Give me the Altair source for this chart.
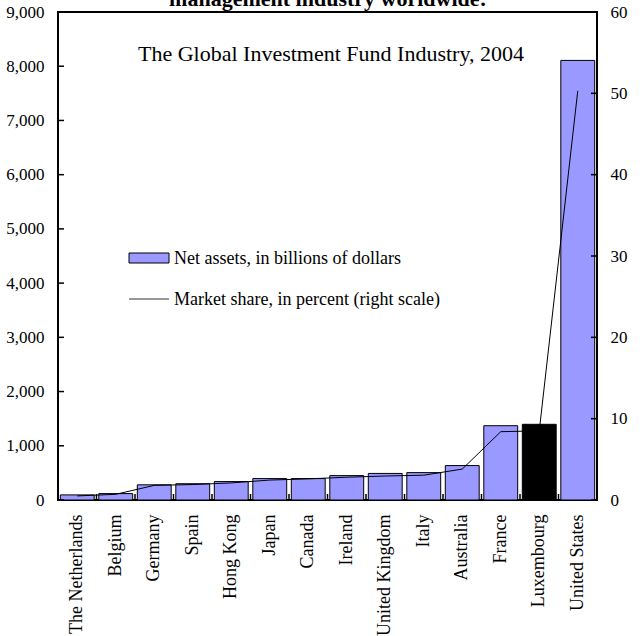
import altair as alt
import pandas as pd

countries = ["The Netherlands", "Belgium", "Germany", "Spain", "Hong Kong", "Japan",
             "Canada", "Ireland", "United Kingdom", "Italy", "Australia", "France",
             "Luxembourg", "United States"]
net_assets = [94, 118, 280, 300, 340, 395, 395, 450, 490, 505, 635, 1370, 1396, 8107]
market_share = [0.5, 0.7, 1.8, 1.9, 2.1, 2.45, 2.6, 2.8, 2.95, 3.05, 3.8, 8.4, 8.5, 50.3]
bar_fill = ["#9999FF"] * 12 + ["#000000", "#9999FF"]
left_ticks = [0, 1000, 2000, 3000, 4000, 5000, 6000, 7000, 8000, 9000]
right_ticks = [0, 10, 20, 30, 40, 50, 60]

title_cut = "management industry worldwide:"
subtitle = "The Global Investment Fund Industry, 2004"
legend_bar = "Net assets, in billions of dollars"
legend_line = "Market share, in percent (right scale)"

FONT = "Liberation Serif"
W, H = 539, 488

df = pd.DataFrame({"country": countries, "assets": net_assets,
                   "share": market_share, "fill": bar_fill})
xenc = alt.X("country:N", sort=countries,
             scale=alt.Scale(paddingInner=0, paddingOuter=0),
             axis=alt.Axis(title=None, labelAngle=-90, ticks=False, domain=False,
                           labelPadding=14, labelFontSize=18))

bars = alt.Chart(df).mark_bar(stroke="black", strokeWidth=1,
                              width=alt.RelativeBandSize(0.88)).encode(
    x=xenc,
    y=alt.Y("assets:Q", scale=alt.Scale(domain=[0, 9000], nice=False),
            axis=alt.Axis(title=None, values=left_ticks, format=",.0f", ticks=False,
                          domain=False, grid=False, labelPadding=14,
                          labelFontSize=17, orient="left")),
    color=alt.Color("fill:N", scale=None),
)

line = alt.Chart(df).mark_line(color="black", strokeWidth=1).encode(
    x=alt.X("country:N", sort=countries),
    y=alt.Y("share:Q", scale=alt.Scale(domain=[0, 60], nice=False),
            axis=alt.Axis(title=None, values=right_ticks, ticks=False, domain=False,
                          grid=False, labelPadding=13, labelFontSize=17,
                          orient="right")),
)

xticks = alt.Chart(df).mark_rule(color="black", strokeWidth=1.5).encode(
    x=alt.X("country:N", sort=countries, bandPosition=0),
    y=alt.value(H - 6), y2=alt.value(H),
)

lt = pd.DataFrame({"v": left_ticks})
lticks = alt.Chart(lt).mark_rule(color="black", strokeWidth=1.5).encode(
    y=alt.Y("v:Q", scale=alt.Scale(domain=[0, 9000], nice=False), axis=None),
    x=alt.value(0), x2=alt.value(6),
)
rt = pd.DataFrame({"v": right_ticks})
rticks = alt.Chart(rt).mark_rule(color="black", strokeWidth=1.5).encode(
    y=alt.Y("v:Q", scale=alt.Scale(domain=[0, 60], nice=False), axis=None),
    x=alt.value(W - 6), x2=alt.value(W),
)

def text_layer(txt, x, y, size, weight="normal", align="center"):
    return alt.Chart(pd.DataFrame({"t": [txt]})).mark_text(
        font=FONT, fontSize=size, fontWeight=weight, align=align,
        baseline="alphabetic", color="black").encode(
        x=alt.value(x), y=alt.value(y), text="t:N")

t_cut = text_layer(title_cut, 270, -6, 22, weight="bold")
t_sub = text_layer(subtitle, 273, 49, 22)
leg_rect = alt.Chart(pd.DataFrame({"a": [0]})).mark_rect(
    fill="#9999FF", stroke="black", strokeWidth=1).encode(
    x=alt.value(71), x2=alt.value(111), y=alt.value(241), y2=alt.value(251))
leg_rule = alt.Chart(pd.DataFrame({"a": [0]})).mark_rule(
    color="#333333", strokeWidth=1.2).encode(
    x=alt.value(71), x2=alt.value(111), y=alt.value(287))
t_leg1 = text_layer(legend_bar, 116, 252, 18, align="left")
t_leg2 = text_layer(legend_line, 116, 293, 18, align="left")

chart = alt.layer(
    bars, line, xticks, lticks, rticks, t_cut, t_sub, leg_rect, leg_rule, t_leg1, t_leg2
).resolve_scale(y="independent").properties(
    width=W, height=H,
    autosize=alt.AutoSizeParams(type="none"),
    padding={"left": 58, "top": 12, "right": 47, "bottom": 136},
    background="white",
).configure_view(stroke="black", strokeWidth=2).configure_axis(
    labelFont=FONT, labelColor="black"
)

chart.save("out.html", embed_options={"renderer": "svg", "actions": False})
